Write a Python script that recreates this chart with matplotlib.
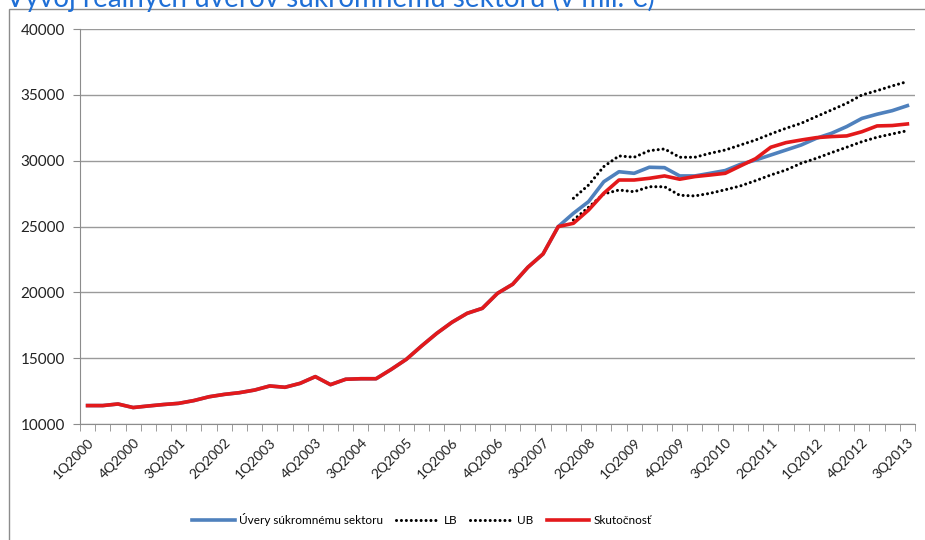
import numpy as np
import matplotlib
matplotlib.use("Agg")
import matplotlib.pyplot as plt
from matplotlib.patches import Rectangle

plt.rcParams['font.family'] = ['Lato', 'DejaVu Sans']

# quarters 1Q2000 .. 3Q2013
quarters = [f"{q}Q{y}" for y in range(2000, 2014) for q in range(1, 5)][:55]

skutocnost = [11400, 11400, 11520, 11250, 11370, 11480, 11570, 11780, 12070, 12250,
              12380, 12580, 12890, 12790, 13090, 13600, 12990, 13400, 13440, 13440,
              14150, 14920, 15930, 16890, 17730, 18410, 18790, 19930, 20620, 21910,
              22920, 25000, 25250, 26260, 27530, 28540, 28540, 28670, 28850, 28600,
              28800, 28920, 29050, 29610, 30160, 31030, 31380, 31580, 31760, 31840,
              31890, 32210, 32650, 32680, 32800]

# model runs with actual values up to 3Q2007, then its own path
uvery_tail = [26010, 26900, 28410, 29170, 29050, 29510, 29480, 28850, 28850, 29050,
              29260, 29730, 30060, 30440, 30820, 31200, 31710, 32090, 32600, 33220,
              33540, 33810, 34190]
ub_tail = [27150, 28160, 29560, 30370, 30270, 30770, 30900, 30270, 30270, 30570,
           30820, 31200, 31580, 32040, 32470, 32850, 33360, 33860, 34370, 35000,
           35330, 35690, 36020]
lb_tail = [25500, 26470, 27480, 27780, 27650, 28030, 28030, 27380, 27330, 27530,
           27800, 28090, 28490, 28920, 29300, 29810, 30190, 30620, 31030, 31450,
           31790, 32040, 32290]

start = 32
uvery = skutocnost[:start] + uvery_tail
ub = [np.nan] * start + ub_tail
lb = [np.nan] * start + lb_tail

x = np.arange(len(quarters))

fig = plt.figure(figsize=(9.25, 5.4), dpi=100)
ax = fig.add_axes([80 / 925, 1 - 424 / 540, 835 / 925, (424 - 29.2) / 540])

# chart frame + cut-off title
fig.patches.append(Rectangle((9 / 925, -0.1), 1.2, 1 - 9 / 540 + 0.1,
                             transform=fig.transFigure, fill=False,
                             edgecolor='#8c8c8c', linewidth=1))
fig.text(6 / 925, 1 - 7 / 540, "Vývoj reálnych úverov súkromnému sektoru (v mil. €)",
         color='#1f6fd6', fontsize=20, va='baseline', ha='left')

dots = dict(color='black', linewidth=2.2, linestyle=(0, (0.01, 1.6)),
            dash_capstyle='round')
ax.plot(x, uvery, color='#4f81bd', linewidth=2.6, label='Úvery súkromnému sektoru')
ax.plot(x, lb, label='LB', **dots)
ax.plot(x, ub, label='UB', **dots)
ax.plot(x, skutocnost, color='#e3191b', linewidth=2.6, label='Skutočnosť')

ax.set_xlim(-0.5, len(quarters) - 0.5)
ax.set_ylim(10000, 40000)
ax.set_yticks(range(10000, 40001, 5000))
ax.yaxis.grid(True, color='#9a9a9a', linewidth=1)
ax.set_axisbelow(True)

ax.set_xticks(x[::3])
ax.set_xticklabels(quarters[::3], rotation=45, ha='right', va='top',
                   rotation_mode='anchor', fontsize=10, color='#222222')
ax.set_xticks(np.arange(-0.5, len(quarters)), minor=True)
ax.tick_params(axis='x', which='major', length=0, pad=9)
ax.tick_params(axis='x', which='minor', length=5, color='#8c8c8c', direction='out')
ax.tick_params(axis='y', length=5, color='#8c8c8c', labelsize=11,
               labelcolor='#222222', pad=6)

for s in ['top', 'right']:
    ax.spines[s].set_visible(False)
for s in ['left', 'bottom']:
    ax.spines[s].set_color('#8c8c8c')

ax.legend(loc='center', bbox_to_anchor=(422 / 925, 20 / 540),
          bbox_transform=fig.transFigure, ncol=4, frameon=False, fontsize=8.5,
          handlelength=3.6, handletextpad=0.4, columnspacing=1.1)

fig.savefig("out.png", dpi=100)
